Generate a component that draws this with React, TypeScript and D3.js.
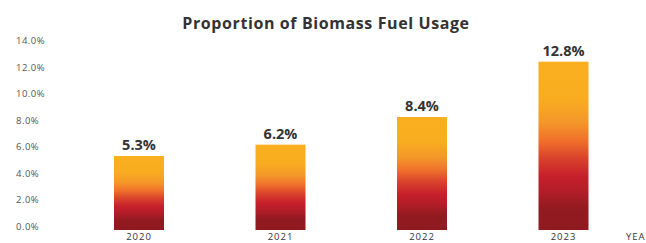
import * as d3 from "d3";

const years = ["2020", "2021", "2022", "2023"];
const shares = [5.3, 6.2, 8.4, 12.8];
const tickValues = [0, 2, 4, 6, 8, 10, 12, 14];

const W = 646;
const H = 243;

const App = () => {
  // bar scale (bars start slightly below the zero line, like the original)
  const y = d3.scaleLinear().domain([0, 14]).range([222.6, 46.6]);
  const barBottom = 230;
  // label scale for the y axis text
  const yTick = d3.scaleLinear().domain([0, 14]).range([226.7, 41]);
  const x = d3.scalePoint().domain(years).range([139, 563.5]);
  const barW = 50;
  const fmt = d3.format(".1f");

  return (
    <>
      <style>{"body{margin:0}"}</style>
      <svg width={W} height={H} style={{ display: "block", fontFamily: "'Open Sans', sans-serif" }}>
        <defs>
          <linearGradient id="barGrad" x1="0" y1="0" x2="0" y2="1">
            <stop offset="0" stopColor="#F9AF1F" />
            <stop offset="0.22" stopColor="#F8AD20" />
            <stop offset="0.36" stopColor="#F4972A" />
            <stop offset="0.47" stopColor="#F0702B" />
            <stop offset="0.57" stopColor="#DA442C" />
            <stop offset="0.68" stopColor="#C6202B" />
            <stop offset="0.78" stopColor="#B01D27" />
            <stop offset="0.87" stopColor="#921A20" />
            <stop offset="1" stopColor="#8E1A1F" />
          </linearGradient>
        </defs>
        <text x={326} y={29} textAnchor="middle" fontSize={16} letterSpacing={0.6} fontWeight="bold" fill="#333">
          Proportion of Biomass Fuel Usage
        </text>
        {tickValues.map((t) => (
          <text key={t} x={16} y={yTick(t)} dy="0.35em" fontSize={9.5} letterSpacing={0.5} fill="#555">
            {fmt(t)}%
          </text>
        ))}
        {years.map((yr, i) => (
          <g key={yr}>
            <rect
              x={(x(yr) as number) - barW / 2}
              y={y(shares[i])}
              width={barW}
              height={barBottom - y(shares[i])}
              fill="url(#barGrad)"
            />
            <text
              x={x(yr) as number}
              y={y(shares[i]) - 6}
              textAnchor="middle"
              fontSize={14.5}
              fontWeight="bold"
              fill="#333"
            >
              {shares[i]}%
            </text>
            <text
              x={x(yr) as number}
              y={240.3}
              textAnchor="middle"
              fontSize={9.5}
              letterSpacing={1}
              fill="#333"
            >
              {yr}
            </text>
          </g>
        ))}
        <text x={626} y={240.3} fontSize={9.5} letterSpacing={1} fill="#333">
          YEAR
        </text>
      </svg>
    </>
  );
};

export default App;
